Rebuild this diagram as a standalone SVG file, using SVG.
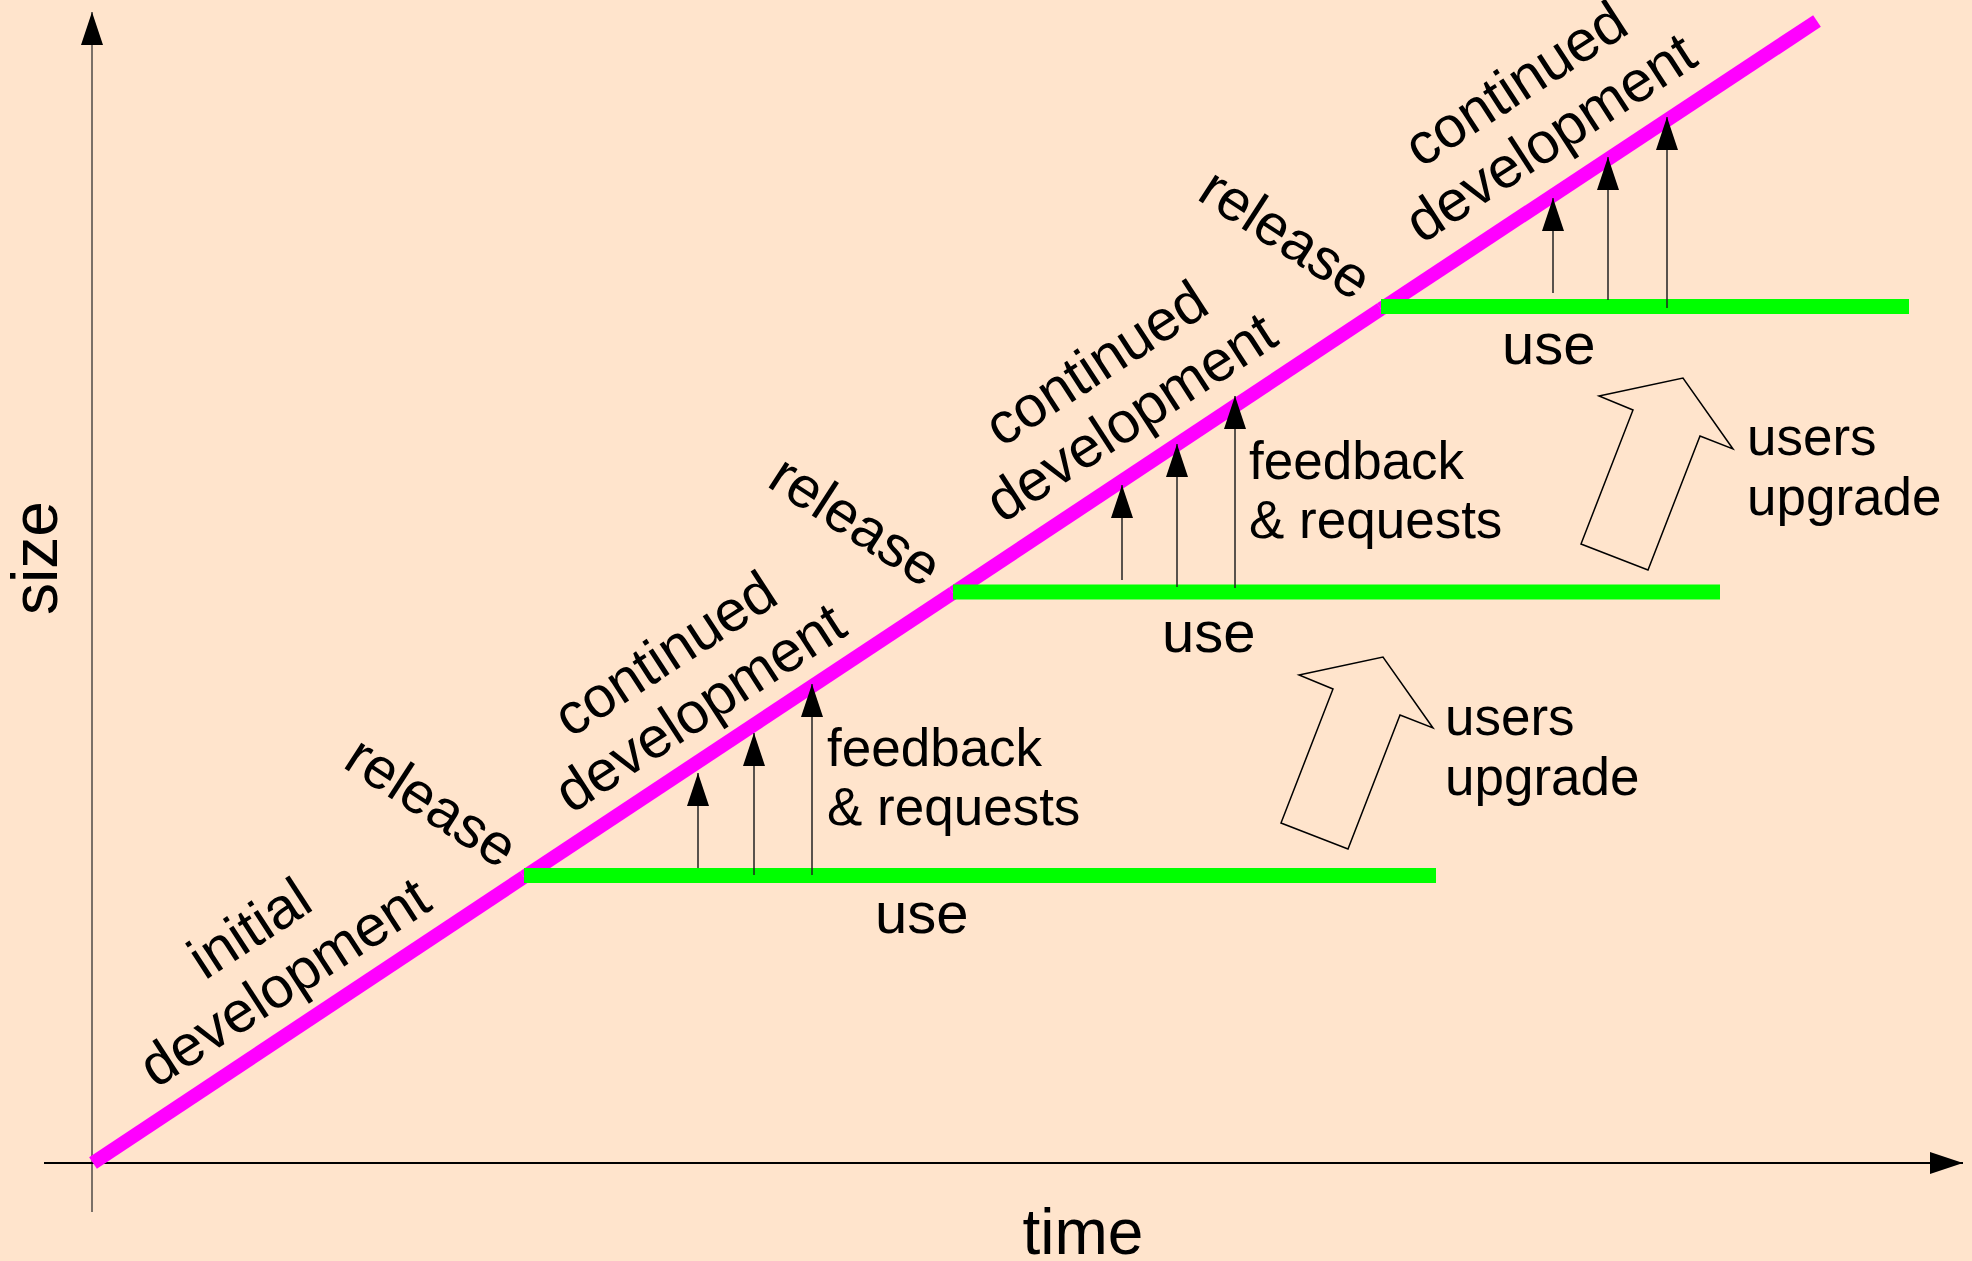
<svg xmlns="http://www.w3.org/2000/svg" width="1972" height="1261" viewBox="0 0 1972 1261">
  <defs>
    <marker id="head" viewBox="0 0 33 22" refX="33" refY="11" markerWidth="33" markerHeight="22" markerUnits="userSpaceOnUse" orient="auto">
      <path d="M0,0 L33,11 L0,22 z" fill="#000"/>
    </marker>
    <style>
      text { font-family: "Liberation Sans", Arial, sans-serif; fill: #000; }
      .lbl { font-size: 58px; text-anchor: middle; }
      .note { font-size: 53px; }
      .use { font-size: 58px; }
      .axis-lbl { font-size: 64px; text-anchor: middle; }
      .dev { stroke: #ff00ff; stroke-width: 14; fill: none; stroke-linecap: butt; }
      .run { stroke: #00ff00; stroke-width: 15; fill: none; stroke-linecap: butt; }
      .fb { stroke: #222; stroke-width: 1.5; fill: none; marker-end: url(#head); }
      .up { fill: none; stroke: #000; stroke-width: 1.5; stroke-linejoin: miter; }
    </style>
  </defs>

  <rect width="1972" height="1261" fill="#ffe4cc"/>

  <!-- axes -->
  <g id="axes">
    <line x1="92" y1="1212" x2="92" y2="12" stroke="#7a7068" stroke-width="2" marker-end="url(#head)"/>
    <line x1="44" y1="1163" x2="1963" y2="1163" stroke="#000" stroke-width="2" marker-end="url(#head)"/>
    <text class="axis-lbl" x="1083" y="1254">time</text>
    <text class="axis-lbl" transform="translate(57,558) rotate(-90)">size</text>
  </g>

  <!-- development line, one segment per phase -->
  <g id="development">
    <line class="dev" x1="93" y1="1163" x2="524" y2="877"/>
    <line class="dev" x1="524" y1="877" x2="953" y2="593"/>
    <line class="dev" x1="953" y1="593" x2="1381" y2="309"/>
    <line class="dev" x1="1381" y1="309" x2="1817" y2="21"/>
  </g>

  <!-- releases in use -->
  <g id="use-1">
    <line class="run" x1="524" y1="875.5" x2="1436" y2="875.5"/>
    <text class="use" x="875" y="933">use</text>
  </g>
  <g id="use-2">
    <line class="run" x1="953" y1="592" x2="1720" y2="592"/>
    <text class="use" x="1162" y="652">use</text>
  </g>
  <g id="use-3">
    <line class="run" x1="1381" y1="306.5" x2="1909" y2="306.5"/>
    <text class="use" x="1502" y="364">use</text>
  </g>

  <!-- feedback connectors from use back to development -->
  <g id="connectors">
    <line class="fb" x1="698" y1="868" x2="698" y2="773"/>
    <line class="fb" x1="754" y1="875" x2="754" y2="733"/>
    <line class="fb" x1="812" y1="875" x2="812" y2="684"/>
    <line class="fb" x1="1122" y1="580" x2="1122" y2="485"/>
    <line class="fb" x1="1177" y1="587" x2="1177" y2="444"/>
    <line class="fb" x1="1235" y1="588" x2="1235" y2="396"/>
    <line class="fb" x1="1553" y1="293" x2="1553" y2="198"/>
    <line class="fb" x1="1608" y1="300" x2="1608" y2="157"/>
    <line class="fb" x1="1667" y1="308" x2="1667" y2="117"/>
  </g>

  <!-- phase labels along the development line -->
  <g id="initial-development" transform="translate(295,998.5) rotate(-33)">
    <text class="lbl" y="-64">initial</text>
    <text class="lbl" y="0">development</text>
  </g>
  <g id="release-1" transform="translate(421,818) rotate(33)">
    <text class="lbl">release</text>
  </g>
  <g id="continued-development-1" transform="translate(710.5,724) rotate(-33)">
    <text class="lbl" y="-64">continued</text>
    <text class="lbl" y="0">development</text>
  </g>
  <g id="release-2" transform="translate(845,537) rotate(33)">
    <text class="lbl">release</text>
  </g>
  <g id="continued-development-2" transform="translate(1141.5,433.5) rotate(-33)">
    <text class="lbl" y="-64">continued</text>
    <text class="lbl" y="0">development</text>
  </g>
  <g id="release-3" transform="translate(1275,250) rotate(33)">
    <text class="lbl">release</text>
  </g>
  <g id="continued-development-3" transform="translate(1561,154) rotate(-33)">
    <text class="lbl" y="-64">continued</text>
    <text class="lbl" y="0">development</text>
  </g>

  <!-- feedback notes -->
  <g id="feedback-1">
    <text class="note" x="827" y="766">feedback</text>
    <text class="note" x="827" y="825">&amp; requests</text>
  </g>
  <g id="feedback-2">
    <text class="note" x="1249" y="479">feedback</text>
    <text class="note" x="1249" y="538">&amp; requests</text>
  </g>

  <!-- upgrade arrows -->
  <g id="upgrade-1">
    <polygon class="up" points="1299,675 1383,657 1433,728 1400,715 1348,849 1281,823 1333,689"/>
    <text class="note" x="1445" y="735">users</text>
    <text class="note" x="1445" y="795">upgrade</text>
  </g>
  <g id="upgrade-2">
    <polygon class="up" points="1599,396 1683,378 1733,449 1700,436 1648,570 1581,544 1633,410"/>
    <text class="note" x="1747" y="455">users</text>
    <text class="note" x="1747" y="515">upgrade</text>
  </g>
</svg>
